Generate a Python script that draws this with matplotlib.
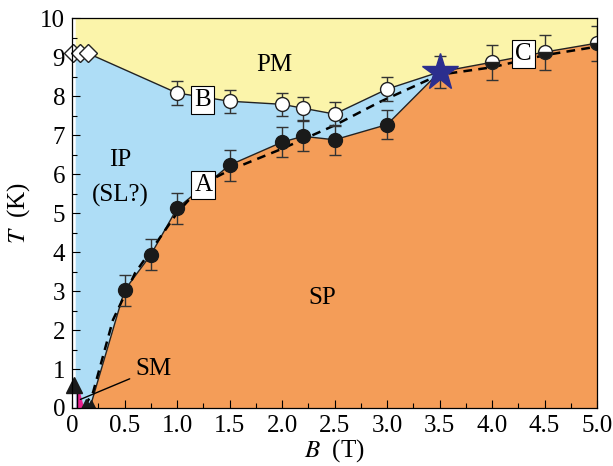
import matplotlib
matplotlib.use("Agg")
import matplotlib.pyplot as plt
import numpy as np

plt.rcParams['font.family'] = ['Liberation Serif', 'DejaVu Serif']
plt.rcParams['mathtext.fontset'] = 'stix'

# ---- data ----
# upper boundary (PM) : open circles, star, half-filled circles
diam_B = [0.01, 0.08, 0.15]
diam_T = [9.1, 9.1, 9.1]
open_B = [1.0, 1.5, 2.0, 2.2, 2.5, 3.0]
open_T = [8.08, 7.87, 7.79, 7.69, 7.54, 8.18]
open_err = [0.3, 0.3, 0.3, 0.3, 0.3, 0.3]
star_B = [3.5]
star_T = [8.62]
star_err = [0.42]
half_B = [4.0, 4.5, 5.0]
half_T = [8.87, 9.13, 9.36]
half_err = [0.45, 0.45, 0.45]
# lower boundary (SP) : filled circles
fill_B = [0.5, 0.75, 1.0, 1.5, 2.0, 2.2, 2.5, 3.0]
fill_T = [3.02, 3.93, 5.12, 6.23, 6.82, 6.97, 6.88, 7.27]
fill_err = [0.4, 0.4, 0.4, 0.4, 0.38, 0.38, 0.38, 0.38]
sp_foot_B = 0.17
# dashed guide line
dash_B = [0.12, 0.2, 0.39, 0.6, 0.84, 1.0, 1.25, 1.5, 2.0, 2.5, 2.93, 3.5, 4.0, 4.5, 5.0]
dash_T = [0.05, 0.4, 2.26, 3.46, 4.38, 5.0, 5.75, 6.1, 6.65, 7.25, 7.85, 8.55, 8.74, 9.05, 9.27]
# SM region near origin
sm_B = [0.045, 0.045, 0.075, 0.115]
sm_T = [0.0, 0.5, 0.42, 0.0]
tri_big_B = [0.02]
tri_big_T = [0.6]
tri_small_B = [0.13, 0.18]
tri_small_T = [0.1, 0.08]
dot_B = [0.15]
dot_T = [0.03]

x_left = 0.035

col_pm = '#FBF4AA'
col_ip = '#AEDDF6'
col_sp = '#F49D58'
col_sm = '#E8208C'

fig = plt.figure(figsize=(6.13, 4.66), dpi=100)
ax = fig.add_axes([0.1175, 0.1245, 0.8565, 0.8365])
ax.set_xlim(0, 5.0)
ax.set_ylim(0, 10)

up_B = [x_left] + diam_B[-1:] + open_B + star_B + half_B
up_T = [diam_T[-1]] + diam_T[-1:] + open_T + star_T + half_T
low_B = [sp_foot_B] + fill_B + star_B
low_T = [0.0] + fill_T + star_T

# yellow PM
ax.fill(up_B + [5.0, x_left], up_T + [10, 10], color=col_pm, lw=0, zorder=1)
# blue IP
k = up_B.index(star_B[0]) + 1
ip_B = [x_left] + up_B[:k] + low_B[::-1][1:]
ip_T = [0.0] + up_T[:k] + low_T[::-1][1:]
ax.fill(ip_B, ip_T, color=col_ip, lw=0, zorder=1)
# orange SP
sp_B = low_B + half_B + [5.0]
sp_T = low_T + half_T + [0.0]
ax.fill(sp_B, sp_T, color=col_sp, lw=0, zorder=1)
# pink SM
ax.fill(sm_B, sm_T, color=col_sm, lw=0, zorder=2)
ax.plot([sm_B[0], sm_B[1]], [0, 0.55], color='black', lw=1, zorder=3)

# boundary lines
ax.plot(up_B[1:], up_T[1:], color='#222222', lw=1.0, zorder=3)
ax.plot(low_B, low_T, color='#222222', lw=1.0, zorder=3)
ax.plot(dash_B, dash_T, color='black', lw=1.8, ls=(0, (3.5, 2.5)), zorder=4)

ekw = dict(ecolor='#333333', elinewidth=1.0, capsize=4, capthick=1.0, ls='none', zorder=5)
ax.errorbar(open_B, open_T, yerr=open_err, marker='o', ms=10, mfc='white', mec='#222222', mew=1.0, **ekw)
ax.errorbar(fill_B, fill_T, yerr=fill_err, marker='o', ms=10, mfc='#1a1a1a', mec='#1a1a1a', **ekw)
ax.errorbar(half_B, half_T, yerr=half_err, marker='o', ms=10, fillstyle='bottom', mfc='#1a1a1a',
            mfcalt='white', mec='#222222', mew=1.0, **ekw)
ax.errorbar(star_B, star_T, yerr=star_err, marker='*', ms=28, mfc='#2B2E8E', mec='#2B2E8E', **ekw)
ax.plot(diam_B, diam_T, ls='none', marker='D', ms=9.5, mfc='white', mec='#222222', mew=1.0, zorder=6, clip_on=False)
ax.plot(tri_big_B, tri_big_T, ls='none', marker='^', ms=11, color='#1a1a1a', zorder=6, clip_on=False)
ax.plot(tri_small_B, tri_small_T, ls='none', marker='^', ms=6.5, color='#1a1a1a', zorder=6)
ax.plot(dot_B, dot_T, ls='none', marker='o', ms=5, color='#1a1a1a', zorder=6)

# labels
fs = 18
ax.text(1.93, 8.8, 'PM', fontsize=fs, ha='center', va='center', zorder=7)
ax.text(0.46, 6.36, 'IP', fontsize=fs, ha='center', va='center', zorder=7)
ax.text(0.46, 5.44, '(SL?)', fontsize=fs, ha='center', va='center', zorder=7)
ax.text(2.38, 2.82, 'SP', fontsize=fs, ha='center', va='center', zorder=7)
box = dict(boxstyle='square,pad=0.12', fc='white', ec='black', lw=0.8)
ax.text(1.24, 7.9, 'B', fontsize=fs, ha='center', va='center', bbox=box, zorder=7)
ax.text(1.25, 5.72, 'A', fontsize=fs, ha='center', va='center', bbox=box, zorder=7)
ax.text(4.3, 9.08, 'C', fontsize=fs, ha='center', va='center', bbox=box, zorder=7)
ax.annotate('SM', xy=(0.08, 0.22), xytext=(0.6, 1.0), fontsize=fs, ha='left', va='center',
            arrowprops=dict(arrowstyle='-', color='black', lw=1.0, shrinkA=2, shrinkB=0), zorder=7)

# axes
ax.set_xticks([0, 0.5, 1.0, 1.5, 2.0, 2.5, 3.0, 3.5, 4.0, 4.5, 5.0])
ax.set_xticklabels(['0', '0.5', '1.0', '1.5', '2.0', '2.5', '3.0', '3.5', '4.0', '4.5', '5.0'])
ax.set_xticks(np.arange(0.25, 5.0, 0.5), minor=True)
ax.set_yticks(range(0, 11))
ax.set_yticks(np.arange(0.5, 10, 1.0), minor=True)
ax.tick_params(which='both', direction='in', top=False, right=False, labelsize=18, pad=5)
ax.tick_params(which='major', length=6, width=0.8)
ax.tick_params(which='minor', length=3.5, width=0.8)
for s in ax.spines.values():
    s.set_linewidth(0.9)
    s.set_zorder(8)
ax.set_xlabel(r'$B$  (T)', fontsize=18, labelpad=0)
ax.set_ylabel(r'$T$  (K)', fontsize=18, labelpad=6)

fig.savefig('out.png', dpi=100)
